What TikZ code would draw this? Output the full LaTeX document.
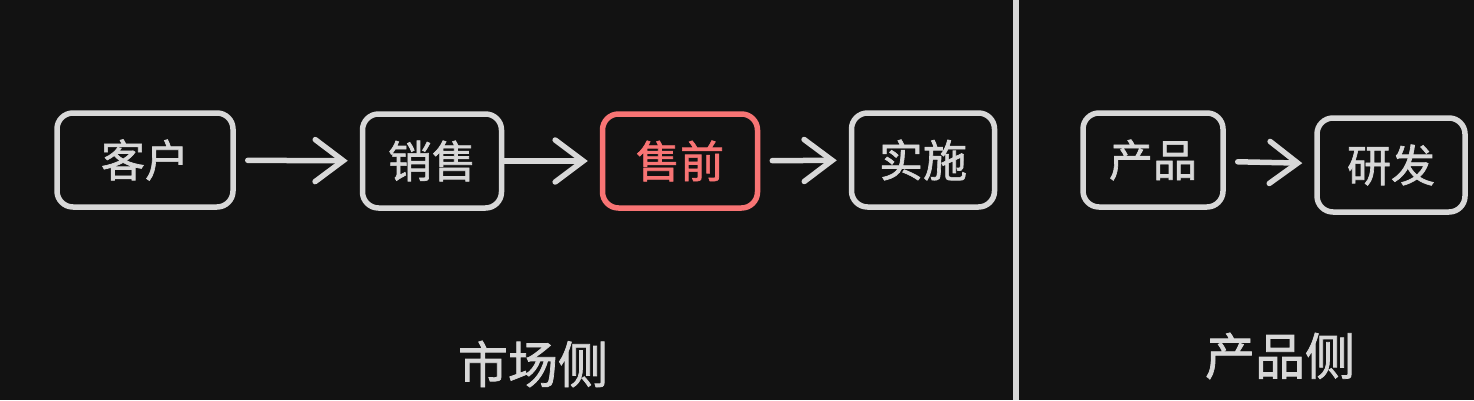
\documentclass[tikz,border=0pt]{standalone}
\usepackage{fontspec}
\usepackage{xcolor}
\usepackage{tikz}
\usetikzlibrary{arrows.meta}
\setmainfont{Noto Sans CJK SC}
\newfontfamily\chalkfont[FakeBold=1.5]{Noto Sans CJK SC}

\definecolor{bg}{HTML}{121212}
\definecolor{chalk}{HTML}{D8D8D8}
\definecolor{salmon}{HTML}{F87474}

\tikzset{
  box/.style={draw=chalk, text=chalk, line width=5.5pt, rounded corners=16pt,
    minimum height=94pt, font=\fontsize{44}{50}\chalkfont},
  hot/.style={box, draw=salmon, text=salmon},
  arr/.style={draw=chalk, line width=5.5pt, line cap=round,
    -{Straight Barb[length=28pt,width=42pt,line cap=round]},
    shorten <=12pt, shorten >=12pt},
  side/.style={text=chalk, font=\fontsize{50}{56}\chalkfont}
}

\begin{document}
\begin{tikzpicture}[x=1pt,y=-1pt]
\fill[bg] (0,0) rectangle (1474,400);
\useasboundingbox (0,0) rectangle (1474,400);

\node (kehu) [box, minimum width=176pt] at (145,160) {客户};
\node (xiaoshou) [box, minimum width=139pt] at (432,161) {销售};
\node (shouqian) [hot, minimum width=155pt] at (680,161) {售前};
\node (shishi) [box, minimum width=143pt] at (923,160) {实施};

\node (chanpin) [box, minimum width=140pt] at (1153,160) {产品};
\node (yanfa) [box, minimum width=148pt] at (1391,165) {研发};

\draw[arr] (kehu) -- (xiaoshou);
\draw[arr, shorten <=0pt] (xiaoshou) -- (shouqian);
\draw[arr] (shouqian) -- (shishi);
\draw[arr] (chanpin) -- (yanfa);

\draw[chalk, line width=6pt] (1016,0) -- (1016,400);

\node (shichang) [side] at (533,364) {市场侧};
\node (chanpince) [side] at (1280,356) {产品侧};
\end{tikzpicture}
\end{document}
